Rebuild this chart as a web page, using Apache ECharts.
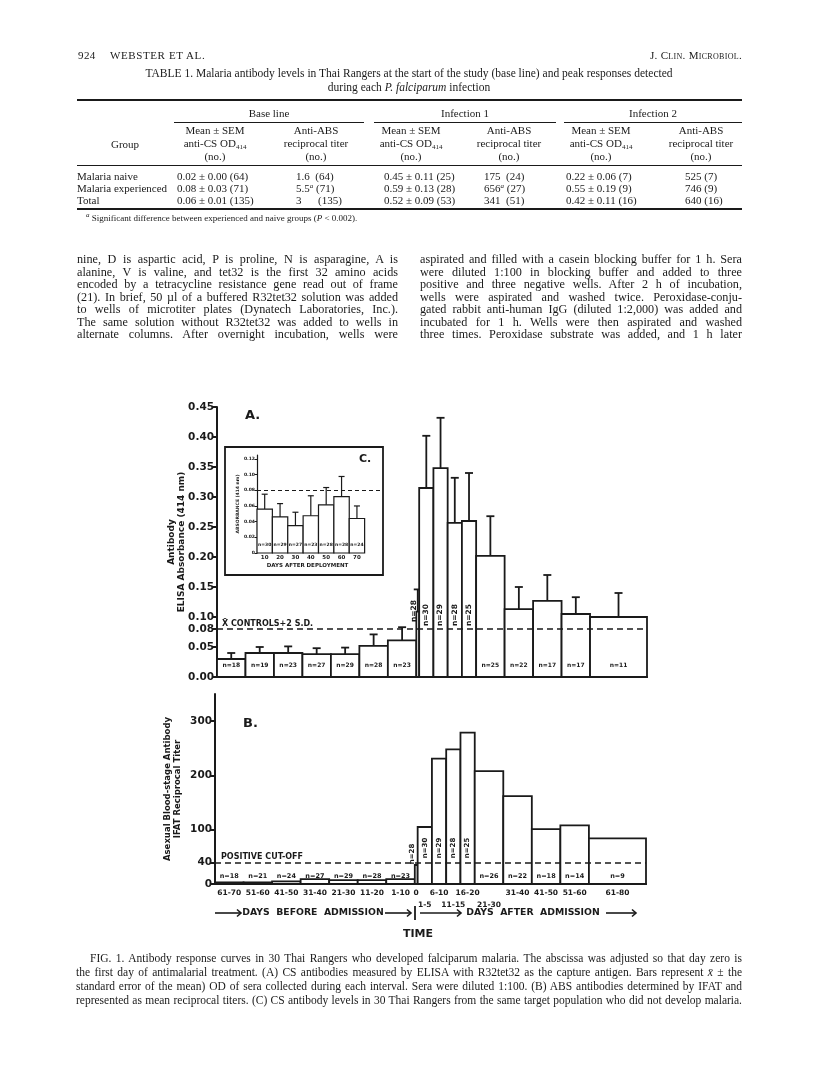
<!DOCTYPE html>
<html><head><meta charset="utf-8">
<script src="https://cdn.jsdelivr.net/npm/echarts@6/dist/echarts.min.js"></script>
<style>
html,body{margin:0;padding:0;background:#fff;width:816px;height:1080px;overflow:hidden;}
#chart{position:absolute;left:0;top:0;width:816px;height:1080px;}
.t{position:absolute;font-family:"Liberation Serif","Times New Roman",serif;color:#1a1a1a;white-space:nowrap;line-height:14px;font-size:11px;}
.jl{position:absolute;font-family:"Liberation Serif","Times New Roman",serif;color:#1a1a1a;white-space:nowrap;font-size:12.2px;line-height:14px;}
.jl.cap{font-size:11.5px;}
.rule{position:absolute;background:#1a1a1a;}
.c{transform:translateX(-50%);text-align:center;}
sub{font-size:7px;vertical-align:-2px;line-height:0;}
sup{font-size:7px;vertical-align:4px;line-height:0;font-style:italic;}
</style>
</head><body>
<div id="chart"></div>

<!-- running header -->
<div class="t" style="left:78px;top:48px;letter-spacing:0.4px;">924</div>
<div class="t" style="left:110px;top:48px;letter-spacing:0.6px;">WEBSTER ET AL.</div>
<div class="t" style="right:74px;top:48px;font-variant:small-caps;letter-spacing:0.3px;">J. Clin. Microbiol.</div>

<!-- table title -->
<div class="t c" style="left:409px;top:66px;font-size:11.5px;">TABLE 1. Malaria antibody levels in Thai Rangers at the start of the study (base line) and peak responses detected</div>
<div class="t c" style="left:409px;top:80px;font-size:11.5px;">during each <i>P. falciparum</i> infection</div>

<!-- table rules -->
<div class="rule" style="left:77px;top:99px;width:665px;height:2px;"></div>
<div class="rule" style="left:174px;top:122px;width:190px;height:1px;"></div>
<div class="rule" style="left:374px;top:122px;width:182px;height:1px;"></div>
<div class="rule" style="left:564px;top:122px;width:178px;height:1px;"></div>
<div class="rule" style="left:77px;top:165px;width:665px;height:1px;"></div>
<div class="rule" style="left:77px;top:208px;width:665px;height:2px;"></div>

<!-- table header -->
<div class="t c" style="left:125px;top:137px;">Group</div>
<div class="t c" style="left:269px;top:106px;">Base line</div>
<div class="t c" style="left:465px;top:106px;">Infection 1</div>
<div class="t c" style="left:653px;top:106px;">Infection 2</div>

<div class="t c" style="left:215px;top:124px;line-height:13px;">Mean ± SEM<br>anti-CS OD<sub>414</sub><br>(no.)</div>
<div class="t c" style="left:316px;top:124px;line-height:13px;">Anti-ABS<br>reciprocal titer<br>(no.)</div>
<div class="t c" style="left:411px;top:124px;line-height:13px;">Mean ± SEM<br>anti-CS OD<sub>414</sub><br>(no.)</div>
<div class="t c" style="left:509px;top:124px;line-height:13px;">Anti-ABS<br>reciprocal titer<br>(no.)</div>
<div class="t c" style="left:601px;top:124px;line-height:13px;">Mean ± SEM<br>anti-CS OD<sub>414</sub><br>(no.)</div>
<div class="t c" style="left:701px;top:124px;line-height:13px;">Anti-ABS<br>reciprocal titer<br>(no.)</div>

<!-- table body -->
<div class="t" style="left:77px;top:170px;line-height:12px;">Malaria naive<br>Malaria experienced<br>Total</div>
<div class="t" style="left:177px;top:170px;line-height:12px;">0.02 ± 0.00 (64)<br>0.08 ± 0.03 (71)<br>0.06 ± 0.01 (135)</div>
<div class="t" style="left:296px;top:170px;line-height:12px;">1.6&nbsp;&nbsp;(64)<br>5.5<sup>a</sup>&nbsp;(71)<br>3&nbsp;&nbsp;&nbsp;&nbsp;&nbsp;&nbsp;(135)</div>
<div class="t" style="left:384px;top:170px;line-height:12px;">0.45 ± 0.11 (25)<br>0.59 ± 0.13 (28)<br>0.52 ± 0.09 (53)</div>
<div class="t" style="left:484px;top:170px;line-height:12px;">175&nbsp;&nbsp;(24)<br>656<sup>a</sup>&nbsp;(27)<br>341&nbsp;&nbsp;(51)</div>
<div class="t" style="left:566px;top:170px;line-height:12px;">0.22 ± 0.06 (7)<br>0.55 ± 0.19 (9)<br>0.42 ± 0.11 (16)</div>
<div class="t" style="left:685px;top:170px;line-height:12px;">525 (7)<br>746 (9)<br>640 (16)</div>
<div class="t" style="left:86px;top:213px;font-size:9px;line-height:11px;"><sup>a</sup> Significant difference between experienced and naive groups (<i>P</i> &lt; 0.002).</div>

<!-- body text -->
<div id="body"></div>
<!-- caption -->
<div id="caption"></div>

<script>
// ---------------- data ----------------
const binLabels = ['61-70','51-60','41-50','31-40','21-30','11-20','1-10','0','1-5','6-10','11-15','16-20','21-30','31-40','41-50','51-60','61-80'];
const binStart  = [-70,-60,-50,-40,-30,-20,-10,0,1,6,11,16,21,31,41,51,61];
const binEnd    = [-60,-50,-40,-30,-20,-10,0,1,6,11,16,21,31,41,51,61,81];
const elisaMean = [0.030,0.040,0.040,0.038,0.038,0.052,0.061,0.109,0.315,0.348,0.257,0.260,0.202,0.113,0.127,0.105,0.100];
const elisaSem  = [0.010,0.010,0.011,0.010,0.011,0.019,0.022,0.037,0.087,0.084,0.075,0.080,0.066,0.037,0.043,0.028,0.040];
const elisaN    = [18,19,23,27,29,28,23,28,30,29,28,25,25,22,17,17,11];
const ifatTiter = [3,3,5,9,7,7,9,35,105,231,248,279,208,162,101,108,84];
const ifatN     = [18,21,24,27,29,28,23,28,30,29,28,25,26,22,18,14,9];
const elisaTicks = [0,0.05,0.08,0.10,0.15,0.20,0.25,0.30,0.35,0.40,0.45];
const ifatTicks  = [0,40,100,200,300];
const elisaCutoff = 0.08;   // mean of controls + 2 SD
const ifatCutoff  = 40;     // positive cut-off titer
const cDays  = [10,20,30,40,50,60,70];
const cMean  = [0.056,0.046,0.035,0.0475,0.0615,0.072,0.044];
const cSem   = [0.019,0.017,0.017,0.0255,0.022,0.0256,0.016];
const cN     = [30,29,27,23,28,28,24];
const cTicks = [0,0.02,0.04,0.06,0.08,0.10,0.12];
const cTickLabels = ['0','0.02','0.04','0.06','0.08','0.10','0.12'];

// ---------------- text ----------------
const bodyLeft = [
 'nine, D is aspartic acid, P is proline, N is asparagine, A is',
 'alanine, V is valine, and tet32 is the first 32 amino acids',
 'encoded by a tetracycline resistance gene read out of frame',
 '(21). In brief, 50 \u00b5l of a buffered R32tet32 solution was added',
 'to wells of microtiter plates (Dynatech Laboratories, Inc.).',
 'The same solution without R32tet32 was added to wells in',
 'alternate columns. After overnight incubation, wells were'];
const bodyRight = [
 'aspirated and filled with a casein blocking buffer for 1 h. Sera',
 'were diluted 1:100 in blocking buffer and added to three',
 'positive and three negative wells. After 2 h of incubation,',
 'wells were aspirated and washed twice. Peroxidase-conju-',
 'gated rabbit anti-human IgG (diluted 1:2,000) was added and',
 'incubated for 1 h. Wells were then aspirated and washed',
 'three times. Peroxidase substrate was added, and 1 h later'];
const captionLines = [
 'FIG. 1. Antibody response curves in 30 Thai Rangers who developed falciparum malaria. The abscissa was adjusted so that day zero is',
 'the first day of antimalarial treatment. (A) CS antibodies measured by ELISA with R32tet32 as the capture antigen. Bars represent <i>x\u0304</i> \u00b1 the',
 'standard error of the mean) OD of sera collected during each interval. Sera were diluted 1:100. (B) ABS antibodies determined by IFAT and',
 'represented as mean reciprocal titers. (C) CS antibody levels in 30 Thai Rangers from the same target population who did not develop malaria.'];

function addLines(container, lines, x0, x1, y0, dy, cls, indent){
  lines.forEach((ln,i)=>{
    const d = document.createElement('div');
    d.className = 'jl' + (cls?(' '+cls):'');
    const left = x0 + (i===0 && indent ? indent : 0);
    d.style.left = left + 'px';
    d.style.top = (y0 + i*dy - 7) + 'px';
    d.innerHTML = ln;
    d.dataset.w = x1 - left;
    container.appendChild(d);
  });
}
const bodyEl = document.getElementById('body');
addLines(bodyEl, bodyLeft, 77, 398, 259, 12.5, '', 0);
addLines(bodyEl, bodyRight, 420, 742, 259, 12.5, '', 0);
addLines(document.getElementById('caption'), captionLines, 76, 742, 958, 14, 'cap', 14);
document.querySelectorAll('.jl').forEach(el=>{
  const target = parseFloat(el.dataset.w);
  const natural = el.getBoundingClientRect().width;
  const spaces = (el.textContent.match(/ /g)||[]).length;
  if (spaces>0) el.style.wordSpacing = ((target-natural)/spaces)+'px';
});

// ---------------- chart ----------------
const INK = '#1a1a1a';
const FONT = 'DejaVu Sans';
const chart = echarts.init(document.getElementById('chart'), null, {renderer:'canvas'});

const centers = binStart.map((s,i)=>(s+binEnd[i])/2);
const secondRow = new Set([8,10,12]);
const row1Centers = centers.filter((c,i)=>!secondRow.has(i));
const row2Centers = centers.filter((c,i)=>secondRow.has(i));
function labelAt(v){
  let bi=0, bd=1e9;
  centers.forEach((c,i)=>{const d=Math.abs(c-v); if(d<bd){bd=d;bi=i;}});
  return binLabels[bi];
}

const rowsA = binStart.map((s,i)=>[s, binEnd[i], elisaMean[i], elisaSem[i], elisaN[i]]);
const rowsB = binStart.map((s,i)=>[s, binEnd[i], ifatTiter[i], 0, ifatN[i]]);
const rowsC = cDays.map((d,i)=>[d-5, d+5, cMean[i], cSem[i], cN[i]]);

function makeRender(o){
  return function(params, api){
    const s=api.value(0), e=api.value(1), v=api.value(2), sem=api.value(3), n=api.value(4);
    const p0=api.coord([s,0]), p1=api.coord([e,v]);
    const ch=[];
    ch.push({type:'rect', shape:{x:p0[0], y:p1[1], width:p1[0]-p0[0], height:p0[1]-p1[1]},
      style:{fill:'#fff', stroke:INK, lineWidth:o.lw}});
    const cx=(p0[0]+p1[0])/2;
    if (o.err && sem>0){
      const pt=api.coord([(s+e)/2, v+sem]);
      ch.push({type:'line', shape:{x1:cx,y1:p1[1],x2:cx,y2:pt[1]}, style:{stroke:INK,lineWidth:o.lw}});
      ch.push({type:'line', shape:{x1:cx-o.cap,y1:pt[1],x2:cx+o.cap,y2:pt[1]}, style:{stroke:INK,lineWidth:o.lw}});
    }
    const narrow = o.rot && (e-s) < 10;
    const isZero = (e-s) <= 1;
    let lx=cx, ly, rot=0, fs;
    if (narrow){ rot=Math.PI/2; fs=o.rotFs; ly=p0[1]-(isZero?o.zeroOff:o.rotOff); if(isZero) lx=cx-4; }
    else { fs=o.fs; ly=p0[1]-o.hOff; }
    ch.push({type:'text', x:lx, y:ly, rotation:rot, z2:10,
      style:{text:'n=' + n, fill:INK, fontSize:fs, fontFamily:FONT, fontWeight:'bold', align:'center', verticalAlign:'middle'}});
    return {type:'group', children:ch};
  };
}

const axisFont = {fontFamily:FONT, fontWeight:'bold', color:INK};
const dash = {type:[6,4], color:INK, width:1.6};

function arrow(x1,x2,y){
  return {type:'polyline', shape:{points:[[x1,y],[x2,y]]}, style:{stroke:INK,lineWidth:1.6,fill:null}};
}
function head(x,y){
  return {type:'polyline', shape:{points:[[x-4,y-3.5],[x,y],[x-4,y+3.5]]}, style:{stroke:INK,lineWidth:1.6,fill:null}};
}
const ay = 913;

const option = {
  animation:false,
  grid:[
    {left:217, top:407, width:430, height:270},
    {left:215, top:694, width:431, height:190},
    {left:257, top:455, width:123, height:98}
  ],
  xAxis:[
    {gridIndex:0, type:'value', min:-70, max:81, axisLine:{onZero:false, lineStyle:{color:INK,width:2}}, axisTick:{show:false}, axisLabel:{show:false}, splitLine:{show:false}},
    {gridIndex:1, type:'value', min:-70, max:81, axisLine:{onZero:false, lineStyle:{color:INK,width:2}}, axisTick:{show:false}, splitLine:{show:false},
      axisLabel:Object.assign({customValues:row1Centers, formatter:labelAt, fontSize:7.5, margin:5}, axisFont)},
    {gridIndex:1, type:'value', min:-70, max:81, position:'bottom', offset:12, axisLine:{show:false, onZero:false}, axisTick:{show:false}, splitLine:{show:false},
      axisLabel:Object.assign({customValues:row2Centers, formatter:labelAt, fontSize:7.5, margin:5}, axisFont)},
    {gridIndex:2, type:'value', min:5, max:85, axisLine:{show:false, onZero:false}, axisTick:{show:false}, splitLine:{show:false},
      axisLabel:Object.assign({customValues:cDays, formatter:v=>String(v), fontSize:5.5, margin:2}, axisFont),
      name:'DAYS AFTER DEPLOYMENT', nameLocation:'middle', nameGap:10, nameMoveOverlap:false,
      nameTextStyle:Object.assign({fontSize:5.5, padding:[0,22,0,0]}, axisFont)}
  ],
  yAxis:[
    {gridIndex:0, type:'value', min:0, max:0.45, splitLine:{show:false},
      axisLine:{show:true, onZero:false, lineStyle:{color:INK,width:2}},
      axisTick:{show:true, customValues:elisaTicks, length:5, lineStyle:{color:INK,width:2}},
      axisLabel:Object.assign({customValues:elisaTicks, formatter:v=>v.toFixed(2), fontSize:10.5, margin:3}, axisFont),
      name:'Antibody\nELISA Absorbance (414 nm)', nameLocation:'middle', nameRotate:90, nameGap:30, nameMoveOverlap:false,
      nameTextStyle:Object.assign({fontSize:9, lineHeight:10}, axisFont)},
    {gridIndex:1, type:'value', min:0, max:350, splitLine:{show:false},
      axisLine:{show:true, onZero:false, lineStyle:{color:INK,width:2}},
      axisTick:{show:true, customValues:ifatTicks, length:5, lineStyle:{color:INK,width:2}},
      axisLabel:Object.assign({customValues:ifatTicks, formatter:v=>String(v), fontSize:10.5, margin:3}, axisFont),
      name:'Asexual Blood-stage Antibody\nIFAT Reciprocal Titer', nameLocation:'middle', nameRotate:90, nameGap:32, nameMoveOverlap:false,
      nameTextStyle:Object.assign({fontSize:8.5, lineHeight:10}, axisFont)},
    {gridIndex:2, type:'value', min:0, max:0.125, splitLine:{show:false},
      axisLine:{show:true, onZero:false, lineStyle:{color:INK,width:1.2}},
      axisTick:{show:true, customValues:cTicks, length:2.5, lineStyle:{color:INK,width:1}},
      axisLabel:Object.assign({customValues:cTicks, formatter:v=>{const i=cTicks.findIndex(t=>Math.abs(t-v)<1e-9);return i>=0?cTickLabels[i]:'';}, fontSize:4.5, margin:2}, axisFont),
      name:'ABSORBANCE (414 nm)', nameLocation:'middle', nameRotate:90, nameGap:17, nameMoveOverlap:false,
      nameTextStyle:Object.assign({fontSize:4.5}, axisFont)}
  ],
  series:[
    {type:'custom', name:'ELISA', xAxisIndex:0, yAxisIndex:0, data:rowsA, encode:{x:[0,1], y:2}, z:3,
      renderItem:makeRender({lw:1.8, err:true, cap:4, rot:true, fs:6, rotFs:7.5, hOff:12, rotOff:62, zeroOff:66}),
      markLine:{silent:true, symbol:'none', lineStyle:dash,
        label:Object.assign({show:true, position:'insideStartTop', formatter:'X\u0304 CONTROLS+2 S.D.', fontSize:8, distance:[5,1]}, axisFont),
        data:[{yAxis:elisaCutoff}]}},
    {type:'custom', name:'IFAT', xAxisIndex:1, yAxisIndex:1, data:rowsB, encode:{x:[0,1], y:2}, z:3,
      renderItem:makeRender({lw:1.8, err:false, cap:0, rot:true, fs:6.5, rotFs:7, hOff:7.5, rotOff:36, zeroOff:30}),
      markLine:{silent:true, symbol:'none', lineStyle:dash,
        label:Object.assign({show:true, position:'insideStartTop', formatter:'POSITIVE CUT-OFF', fontSize:8, distance:[6,1]}, axisFont),
        data:[{yAxis:ifatCutoff}]}},
    {type:'custom', name:'Controls', xAxisIndex:3, yAxisIndex:2, data:rowsC, encode:{x:[0,1], y:2}, z:3,
      renderItem:makeRender({lw:1.2, err:true, cap:3, rot:false, fs:4.5, rotFs:4.5, hOff:8, rotOff:0, zeroOff:0}),
      markLine:{silent:true, symbol:'none', lineStyle:{type:[4,3], color:INK, width:1.1}, label:{show:false},
        data:[{yAxis:elisaCutoff}]}}
  ],
  graphic:[
    {type:'rect', shape:{x:225, y:447, width:158, height:128}, style:{fill:null, stroke:INK, lineWidth:1.8}},
    {type:'text', x:245, y:416, style:{text:'A.', fontSize:13, fontWeight:'bold', fontFamily:FONT, fill:INK, verticalAlign:'middle'}},
    {type:'text', x:243, y:724, style:{text:'B.', fontSize:13, fontWeight:'bold', fontFamily:FONT, fill:INK, verticalAlign:'middle'}},
    {type:'text', x:359, y:459, style:{text:'C.', fontSize:11, fontWeight:'bold', fontFamily:FONT, fill:INK, verticalAlign:'middle'}},
    arrow(215,241,ay), head(241,ay),
    {type:'text', x:313, y:ay, style:{text:'DAYS  BEFORE  ADMISSION', fontSize:9.3, fontWeight:'bold', fontFamily:FONT, fill:INK, align:'center', verticalAlign:'middle'}},
    arrow(385,411,ay), head(411,ay),
    {type:'line', shape:{x1:415,y1:ay-7,x2:415,y2:ay+7}, style:{stroke:INK,lineWidth:1.8}},
    arrow(420,461,ay), head(461,ay),
    {type:'text', x:533, y:ay, style:{text:'DAYS  AFTER  ADMISSION', fontSize:9.3, fontWeight:'bold', fontFamily:FONT, fill:INK, align:'center', verticalAlign:'middle'}},
    arrow(606,636,ay), head(636,ay),
    {type:'text', x:418, y:934, style:{text:'TIME', fontSize:11, fontWeight:'bold', fontFamily:FONT, fill:INK, align:'center', verticalAlign:'middle'}}
  ]
};
chart.setOption(option);
</script>
</body></html>
